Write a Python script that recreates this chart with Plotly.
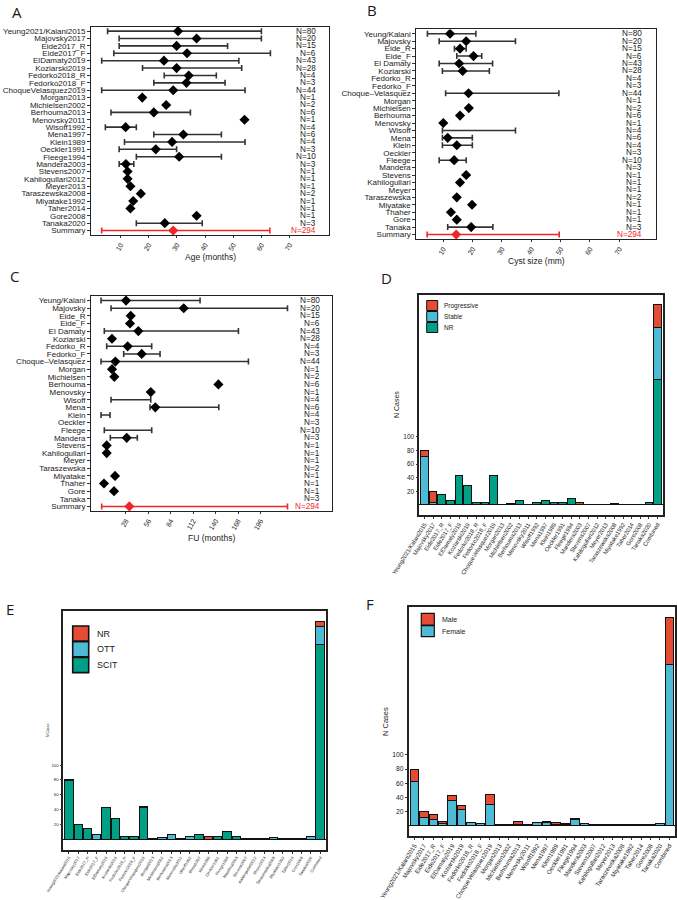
import plotly.graph_objects as go

W, H = 677, 900
FONT = "Liberation Sans"
TXT = "#1a1a1a"

# ---------------- data ----------------
studies_full = ["Yeung2021/Kalani2015", "Majovsky2017", "Eide2017_R", "Eide2017_F", "ElDamaty2019",
                "Koziarski2019", "Fedorko2018_R", "Fedorko2018_F", "ChoqueVelasquez2019", "Morgan2013",
                "Michielsen2002", "Berhouma2013", "Menovsky2011", "Wisoff1992", "Mena1997", "Klein1989",
                "Oeckler1991", "Fleege1994", "Mandera2003", "Stevens2007", "Kahilogullari2012", "Meyer2013",
                "Taraszewska2008", "Miyatake1992", "Taher2014", "Gore2008", "Tanaka2020"]
studies_short = ["Yeung/Kalani", "Majovsky", "Eide_R", "Eide_F", "El Damaty", "Koziarski", "Fedorko_R",
                 "Fedorko_F", "Choque\u2013Velasquez", "Morgan", "Michielsen", "Berhouma", "Menovsky", "Wisoff",
                 "Mena", "Klein", "Oeckler", "Fleege", "Mandera", "Stevens", "Kahilogullari", "Meyer",
                 "Taraszewska", "Miyatake", "Thaher", "Gore", "Tanaka"]
n_cases = [80, 20, 15, 6, 43, 28, 4, 3, 44, 1, 2, 6, 1, 4, 6, 4, 3, 10, 3, 1, 1, 1, 2, 1, 1, 1, 3]
n_total = 294

# Panel A: age (months)
age_mean = [30.4, 37, 29.9, 33.6, 25.4, 29.9, 34.2, 33.4, 28.7, 17.7, 26.2, 21.8, 54, 11.8, 32.3, 28.3,
            22.5, 30.8, 11.9, 12.5, 12.5, 13.5, 17.2, 14.5, 13.5, 37, 25.7]
age_lo = [5.4, 9.5, 9.5, 7.6, 3.3, 17.8, 25.5, 21.8, 3.3, None, None, 6.6, None, 4.6, 21.8, 11.4,
          9.5, 15.6, 9.5, None, None, None, None, None, None, None, 15.6]
age_hi = [60, 60, 48, 63.2, 52, 53, 44, 47.1, 54.2, None, None, 34.8, None, 15.6, 45.8, 54.2,
          29.9, 45.8, 14.7, None, None, None, None, None, None, None, 39]
age_sum = (28.7, 3.3, 63.0)

# Panel B: cyst size (mm)
cyst_mean = [12.3, 17.8, 15.7, 20.3, 15.4, 16.6, None, None, 18.6, None, 18.7, 15.7, 10, None, 11.5, 14.6,
             None, 13.7, None, 17.8, 15.7, None, 14.6, 19.8, 12.6, 14.6, 19.5]
cyst_lo = [4.6, 8.6, 13.8, 14.6, 8.6, 9.7, None, None, 10.8, None, None, None, None, 9.7, 9.7, 9.7,
           None, 8.6, None, None, None, None, None, None, None, None, 11.5]
cyst_hi = [21.1, 34.6, 17.8, 23.1, 26.8, 25.7, None, None, 49.4, None, None, None, None, 34.6, 19.9, 19.9,
           None, 17.8, None, None, None, None, None, None, None, None, 26.9]
cyst_sum = (14.4, 4.5, 49.5)

# Panel C: follow-up (months)
fu_mean = [28.1, 100.2, 34, 33.1, 43.5, 10.6, 30.2, 47.7, 14.8, 10.6, 13.5, 143.5, 59, None, 64.7, None,
           None, None, 29, 4, 4, None, None, 14.4, 0.6, 13.1, None]
fu_lo = [-3.1, 9.4, None, None, 1, None, 4, 25.2, -3.1, None, None, None, None, 9.4, 58.1, -3.1,
         None, 1, 8.5, None, None, None, None, None, None, None, None]
fu_hi = [120.6, 229.8, None, None, 168.5, None, 60.2, 70.6, 181, None, None, None, None, 59, 144, 8.1,
         None, 60.2, 42.2, None, None, None, None, None, None, None, None]
fu_sum = (32.3, -2.3, 229.8)

age_ticks = [10, 20, 30, 40, 50, 60, 70]
fu_ticks = [28, 56, 84, 112, 140, 168, 196]
count_ticks = [20, 40, 60, 80, 100]

bar_cats = studies_full + ["Combined"]
# Panel D: outcome
D_nr = [0, 0, 15, 6, 43, 28, 4, 3, 44, 1, 2, 6, 1, 4, 6, 4, 3, 10, 0, 1, 1, 1, 2, 1, 1, 1, 3, 184]
D_stable = [71, 3, 0, 0, 0, 0, 0, 0, 0, 0, 0, 0, 0, 0, 0, 0, 0, 0, 0, 0, 0, 0, 0, 0, 0, 0, 0, 77]
D_prog = [9, 17, 0, 0, 0, 0, 0, 0, 0, 0, 0, 0, 0, 0, 0, 0, 0, 0, 3, 0, 0, 0, 0, 0, 0, 0, 0, 33]
# Panel E: treatment
E_scit = [79, 20, 15, 0, 43, 28, 4, 3, 43, 0, 0, 0, 0, 0, 6, 0, 3, 10, 3, 1, 1, 1, 0, 1, 1, 1, 0, 263]
E_ott = [0, 0, 0, 6, 0, 0, 0, 0, 0, 1, 2, 6, 1, 4, 0, 0, 0, 0, 0, 0, 0, 0, 2, 0, 0, 0, 3, 25]
E_nr = [1, 0, 0, 0, 0, 0, 0, 0, 1, 0, 0, 0, 0, 0, 0, 4, 0, 0, 0, 0, 0, 0, 0, 0, 0, 0, 0, 6]
# Panel F: sex
F_female = [62, 12, 9, 3, 36, 23, 4, 3, 30, 1, 1, 1, 1, 4, 5, 1, 2, 8, 3, 0, 1, 1, 1, 0, 1, 0, 3, 228]
F_male = [18, 8, 6, 3, 7, 5, 0, 0, 14, 0, 1, 5, 0, 0, 1, 3, 1, 2, 0, 1, 0, 0, 1, 1, 0, 1, 0, 66]

RED, BLUE, GREEN = "#E64B35", "#4DBBD5", "#00A087"
SUMRED = "#F2262A"


def dx(l, r):
    return [l / W, r / W]


def dy(top, bottom):
    return [1 - bottom / H, 1 - top / H]


fig = go.Figure()
annotations = []
shapes = []


def forest(xa, ya, labels, mean, lo, hi, summ, npos):
    mids = [None if (a is None or b is None) else (a + b) / 2 for a, b in zip(lo, hi)]
    half = [None if (a is None or b is None) else (b - a) / 2 for a, b in zip(lo, hi)]
    fig.add_trace(go.Scatter(x=mids, y=labels, mode="markers", xaxis=xa, yaxis=ya,
                             marker=dict(size=2, color="rgba(0,0,0,0)"),
                             error_x=dict(type="data", array=half, symmetric=True, color="#333333",
                                          thickness=1.6, width=3),
                             showlegend=False, hoverinfo="skip"))
    fig.add_trace(go.Scatter(x=mean, y=labels, mode="markers", xaxis=xa, yaxis=ya,
                             marker=dict(symbol="diamond", size=7.8, color="black"),
                             showlegend=False))
    sm, sl, sh = summ
    fig.add_trace(go.Scatter(x=[(sl + sh) / 2], y=["Summary"], mode="markers", xaxis=xa, yaxis=ya,
                             marker=dict(size=2, color="rgba(0,0,0,0)"),
                             error_x=dict(type="data", array=[(sh - sl) / 2], symmetric=True,
                                          color=SUMRED, thickness=1.6, width=3),
                             showlegend=False, hoverinfo="skip"))
    fig.add_trace(go.Scatter(x=[sm], y=["Summary"], mode="markers", xaxis=xa, yaxis=ya,
                             marker=dict(symbol="diamond", size=7.8, color=SUMRED),
                             showlegend=False))
    xr = xa + " domain"
    for lab, n in zip(labels, n_cases):
        annotations.append(dict(x=npos, y=lab, xref=xr, yref=ya, text=f"N={n}", showarrow=False,
                                xanchor="right", yanchor="middle",
                                font=dict(family=FONT, size=8.2, color=TXT)))
    annotations.append(dict(x=npos, y="Summary", xref=xr, yref=ya, text=f"N={n_total}", showarrow=False,
                            xanchor="right", yanchor="middle",
                            font=dict(family=FONT, size=8.2, color=SUMRED)))


forest("x", "y", studies_full, age_mean, age_lo, age_hi, age_sum, 0.955)
forest("x2", "y2", studies_short, cyst_mean, cyst_lo, cyst_hi, cyst_sum, 0.95)
forest("x3", "y3", studies_short, fu_mean, fu_lo, fu_hi, fu_sum, 0.958)


def bars(xa, ya, series):
    for vals, col, name in series:
        fig.add_trace(go.Bar(x=bar_cats, y=vals, name=name, xaxis=xa, yaxis=ya,
                             marker=dict(color=col, line=dict(color="#111111", width=1)),
                             showlegend=False))


bars("x4", "y4", [(D_nr, GREEN, "NR"), (D_stable, BLUE, "Stable"), (D_prog, RED, "Progressive")])
bars("x5", "y5", [(E_scit, GREEN, "SCIT"), (E_ott, BLUE, "OTT"), (E_nr, RED, "NR")])
bars("x6", "y6", [(F_female, BLUE, "Female"), (F_male, RED, "Male")])

# ---------------- axes ----------------
frame = dict(showline=True, mirror=True, linecolor="#222222", linewidth=1.2, showgrid=False,
             zeroline=False, ticks="outside", tickcolor="#333333", ticklen=2.5, tickwidth=1,
             automargin=False)


def forest_y(dom, cats, anchor):
    allc = cats + ["Summary"]
    return dict(frame, domain=dom, anchor=anchor, type="category", categoryorder="array",
                categoryarray=list(reversed(allc)), range=[-0.6, 27.6],
                tickmode="array", tickvals=allc, ticktext=allc,
                tickfont=dict(family=FONT, size=8, color=TXT))


def forest_x(dom, rng, ticks, anchor):
    return dict(frame, domain=dom, anchor=anchor, range=rng, tickvals=ticks, tickangle=-60, ticklen=2,
                tickfont=dict(family=FONT, size=7, color=TXT))


def bar_x(dom, anchor, fs, lw):
    return dict(frame, domain=dom, anchor=anchor, type="category", range=[-0.6, 27.6], tickangle=-58,
                tickmode="array", tickvals=bar_cats, ticktext=bar_cats,
                linewidth=lw, ticklen=2, tickfont=dict(family=FONT, size=fs, color=TXT))


def bar_y(dom, anchor, fs, lw):
    return dict(frame, domain=dom, anchor=anchor, range=[-14.7, 308.7], tickvals=count_ticks,
                linewidth=lw, ticklen=2, zeroline=True, zerolinecolor="#111111", zerolinewidth=1,
                tickfont=dict(family=FONT, size=fs, color=TXT))


layout = dict(
    width=W, height=H, margin=dict(l=0, r=0, t=0, b=0, autoexpand=False),
    paper_bgcolor="white", plot_bgcolor="white",
    barmode="stack", bargap=0.1, showlegend=False,
    xaxis=forest_x(dx(90.7, 329), [-0.6, 84], age_ticks, "y"),
    yaxis=forest_y(dy(26.7, 235), studies_full, "x"),
    xaxis2=forest_x(dx(416, 656), [0.7, 82.5], age_ticks, "y2"),
    yaxis2=forest_y(dy(29.3, 239), studies_short, "x2"),
    xaxis3=forest_x(dx(90.7, 331.7), [-16, 285], fu_ticks, "y3"),
    yaxis3=forest_y(dy(296, 511), studies_short, "x3"),
    xaxis4=bar_x(dx(419.3, 662.7), "y4", 5.8, 1.6),
    yaxis4=bar_y(dy(294.7, 515), "x4", 6.5, 1.6),
    xaxis5=bar_x(dx(63.3, 325.7), "y5", 4.0, 1.6),
    yaxis5=bar_y(dy(610.7, 850), "x5", 4.3, 1.6),
    xaxis6=bar_x(dx(408.7, 675), "y6", 6.1, 1.6),
    yaxis6=bar_y(dy(607.3, 836), "x6", 6.8, 1.6),
)


def paper_text(x, y, text, size, angle=0, xanchor="center", color=TXT, family=FONT):
    annotations.append(dict(x=x / W, y=1 - y / H, xref="paper", yref="paper", text=text, showarrow=False,
                            xanchor=xanchor, yanchor="middle", textangle=angle,
                            font=dict(family=family, size=size, color=color)))


# panel letters
for letter, x, y in [("A", 17, 12), ("B", 372, 10), ("C", 14, 276), ("D", 386, 278), ("E", 10, 609),
                     ("F", 370, 604)]:
    paper_text(x, y, letter, 15, family="Open Sans")

# axis titles
paper_text(210, 257, "Age (months)", 8.5)
paper_text(536, 261, "Cyst size (mm)", 8.5)
paper_text(211, 538, "FU (months)", 8.5)
paper_text(397, 405, "N Cases", 7, angle=-90)
paper_text(48, 730, "N Cases", 3.5, angle=-90)
paper_text(385, 722, "N Cases", 7.5, angle=-90)


# manual legends
def legend(items, x0, x1, tops, textx, fs, lw):
    for (name, col), (t, b) in zip(items, tops):
        shapes.append(dict(type="rect", xref="paper", yref="paper", x0=x0 / W, x1=x1 / W,
                           y0=1 - b / H, y1=1 - t / H, fillcolor=col,
                           line=dict(color="#111111", width=lw)))
        paper_text(textx, (t + b) / 2, name, fs, xanchor="left")


legend([("Progressive", RED), ("Stable", BLUE), ("NR", GREEN)], 426.7, 437.7,
       [(300.5, 310.5), (311.5, 321.5), (322.5, 332.5)], 442, 6.5, 1)
legend([("NR", RED), ("OTT", BLUE), ("SCIT", GREEN)], 72.7, 88.7,
       [(626, 641), (641.7, 656.7), (657.4, 672.6)], 95, 9, 1.6)
legend([("Male", RED), ("Female", BLUE)], 421.3, 434.3,
       [(613.3, 625), (625.7, 636.7)], 439.5, 7, 1.2)

layout["annotations"] = annotations
layout["shapes"] = shapes
fig.update_layout(**layout)
fig.write_html("out.html", config={"displayModeBar": False},
               post_script="document.body.style.margin='0';document.body.style.overflow='hidden';")
